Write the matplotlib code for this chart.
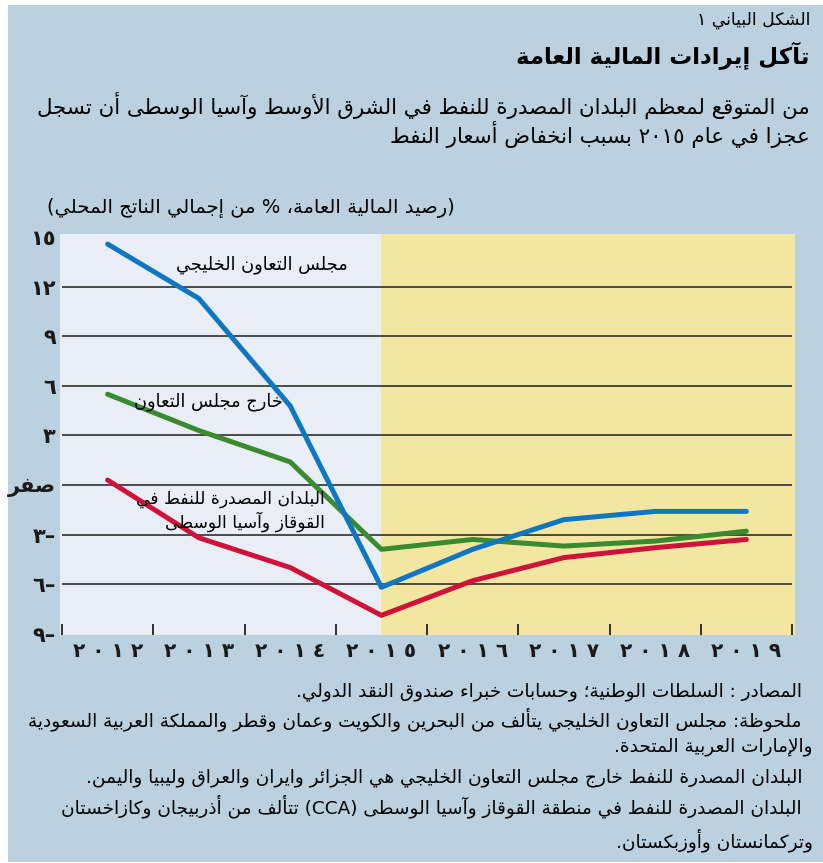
import matplotlib
matplotlib.use("Agg")
import matplotlib.pyplot as plt
from matplotlib.patches import Rectangle
import numpy as np

# ---- data ----
years = ["٢٠١٢", "٢٠١٣", "٢٠١٤", "٢٠١٥", "٢٠١٦", "٢٠١٧", "٢٠١٨", "٢٠١٩"]
gcc = [14.6, 11.3, 4.8, -6.2, -3.9, -2.1, -1.6, -1.6]
non_gcc = [5.5, 3.3, 1.4, -3.9, -3.3, -3.7, -3.4, -2.8]
cca = [0.3, -3.2, -5.0, -7.9, -5.8, -4.4, -3.8, -3.3]
yticks = [15, 12, 9, 6, 3, 0, -3, -6, -9]
ytick_labels = ["١٥", "١٢", "٩", "٦", "٣", "صفر", "–٣", "–٦", "–٩"]
grid_vals = [12, 9, 6, 3, 0, -3, -6]

header = "الشكل البياني ١"
title = "تآكل إيرادات المالية العامة"
subtitle = ["من المتوقع لمعظم البلدان المصدرة للنفط في الشرق الأوسط وآسيا الوسطى أن تسجل",
            "عجزا في عام ٢٠١٥ بسبب انخفاض أسعار النفط"]
ylabel = "(رصيد المالية العامة، % من إجمالي الناتج المحلي)"
lbl_gcc = "مجلس التعاون الخليجي"
lbl_non_gcc = "خارج مجلس التعاون"
lbl_cca = "البلدان المصدرة للنفط في\nالقوقاز وآسيا الوسطى"
notes = ["المصادر : السلطات الوطنية؛ وحسابات خبراء صندوق النقد الدولي.",
         "ملحوظة: مجلس التعاون الخليجي يتألف من البحرين والكويت وعمان وقطر والمملكة العربية السعودية",
         "والإمارات العربية المتحدة.",
         "البلدان المصدرة للنفط خارج مجلس التعاون الخليجي هي الجزائر وايران والعراق وليبيا واليمن.",
         "البلدان المصدرة للنفط في منطقة القوقاز وآسيا الوسطى (CCA) تتألف من أذربيجان وكازاخستان",
         "وتركمانستان وأوزبكستان."]

# ---- minimal arabic shaping + bidi, matplotlib does neither ----
NFORMS = {0x621: 1, 0x622: 2, 0x623: 2, 0x624: 2, 0x625: 2, 0x626: 4, 0x627: 2,
          0x628: 4, 0x629: 2, 0x62A: 4, 0x62B: 4, 0x62C: 4, 0x62D: 4, 0x62E: 4,
          0x62F: 2, 0x630: 2, 0x631: 2, 0x632: 2, 0x633: 4, 0x634: 4, 0x635: 4,
          0x636: 4, 0x637: 4, 0x638: 4, 0x639: 4, 0x63A: 4, 0x641: 4, 0x642: 4,
          0x643: 4, 0x644: 4, 0x645: 4, 0x646: 4, 0x647: 4, 0x648: 2, 0x649: 2,
          0x64A: 4}
FORMS = {}
_cp = 0xFE80
for _k, _n in NFORMS.items():
    _f = [chr(_cp + i) for i in range(_n)]
    if _n == 1:
        _f = _f * 4
    elif _n == 2:
        _f = [_f[0], _f[1], _f[0], _f[1]]
    FORMS[chr(_k)] = _f  # isolated, final, initial, medial
    _cp += _n
LAM_ALEF = {"\u0622": ("\uFEF5", "\uFEF6"), "\u0623": ("\uFEF7", "\uFEF8"),
            "\u0625": ("\uFEF9", "\uFEFA"), "\u0627": ("\uFEFB", "\uFEFC")}
MIRROR = {"(": ")", ")": "("}


def shape(s):
    units = []
    i = 0
    while i < len(s):
        if s[i] == "\u0644" and i + 1 < len(s) and s[i + 1] in LAM_ALEF:
            units.append(("la", s[i + 1]))
            i += 2
        else:
            units.append(("c", s[i]))
            i += 1

    def joins_next(u):
        return u[0] == "c" and u[1] in FORMS and NFORMS[ord(u[1])] == 4

    def joins_prev(u):
        return u[0] == "la" or (u[1] in FORMS and NFORMS[ord(u[1])] >= 2)

    out = []
    for k, u in enumerate(units):
        p = k > 0 and joins_next(units[k - 1]) and joins_prev(u)
        n = k + 1 < len(units) and joins_next(u) and joins_prev(units[k + 1])
        if u[0] == "la":
            out.append(LAM_ALEF[u[1]][1 if p else 0])
        elif u[1] in FORMS:
            out.append(FORMS[u[1]][(3 if n else 1) if p else (2 if n else 0)])
        else:
            out.append(u[1])
    return "".join(out)


def ar(text):
    lines = []
    for line in text.split("\n"):
        runs = []
        for ch in shape(line):
            ltr = (ch.isascii() and ch.isalnum()) or ("\u0660" <= ch <= "\u0669")
            if runs and runs[-1][0] == ltr:
                runs[-1][1].append(ch)
            else:
                runs.append([ltr, [ch]])
        vis = []
        for ltr, chs in reversed(runs):
            if ltr:
                vis.append("".join(chs))
            else:
                vis.append("".join(MIRROR.get(c, c) for c in reversed(chs)))
        lines.append("".join(vis))
    return "\n".join(lines)


# ---- figure ----
plt.rcParams["font.family"] = "DejaVu Sans"
W, H = 823, 863
fig = plt.figure(figsize=(W / 100, H / 100), dpi=100, facecolor="white")


def fx(x):
    return x / W


def fy(y):
    return 1 - y / H


BG = "#bcd1df"
fig.patches.append(Rectangle((fx(8), fy(862)), (823 - 8) / W, (862 - 5) / H,
                             transform=fig.transFigure, color=BG, lw=0, zorder=-1))

ax = fig.add_axes([fx(60), fy(635), (795 - 60) / W, (635 - 234) / H])
ax.patch.set_visible(False)
x0, x1 = -0.5 - 2 / 91.25, 7.5 + 3 / 91.25
ax.set_xlim(x0, x1)
ax.set_ylim(-9.09, 15.21)
ax.axvspan(x0, 3, color="#e9eef6", lw=0, zorder=0)
ax.axvspan(3, x1, color="#f3e6a0", lw=0, zorder=0)
ax.hlines(grid_vals, -0.5, 7.5, color="#2e2e2e", lw=1.2, zorder=1)

x = np.arange(len(years))
ax.plot(x, non_gcc, color="#3a8a2f", lw=3.6, solid_capstyle="round", zorder=3)
ax.plot(x, cca, color="#cf1239", lw=3.6, solid_capstyle="round", zorder=3)
ax.plot(x, gcc, color="#0f76c2", lw=3.6, solid_capstyle="round", zorder=4)

for s in ax.spines.values():
    s.set_visible(False)
ax.set_xticks(np.arange(-0.5, 8, 1))
ax.set_xticklabels([])
ax.tick_params(axis="x", which="major", direction="in", length=8, width=1.3, color="#222222")
ax.set_xticks(x, minor=True)
ax.set_xticklabels([" ".join(y) for y in years], minor=True, fontsize=14.5, fontweight="bold",
                   color="#1a1a1a")
ax.tick_params(axis="x", which="minor", length=0, pad=5)
ax.set_yticks(yticks)
ax.set_yticklabels([ar(t) for t in ytick_labels], fontsize=15, fontweight="bold", color="#1a1a1a")
ax.tick_params(axis="y", length=0, pad=3)

# series labels
fig.text(fx(348), fy(265), ar(lbl_gcc), ha="right", va="center", fontsize=12.8, zorder=5)
fig.text(fx(283), fy(402), ar(lbl_non_gcc), ha="right", va="center", fontsize=12.8, zorder=5)
fig.text(fx(325), fy(511), ar(lbl_cca), ha="right", va="center", fontsize=12.3,
         multialignment="right", linespacing=1.2, zorder=5)

# header texts
fig.text(fx(810), fy(20), ar(header), ha="right", va="center", fontsize=12.4)
fig.text(fx(810), fy(56), ar(title), ha="right", va="center", fontsize=16.5, fontweight="bold")
fig.text(fx(810), fy(105), ar(subtitle[0]), ha="right", va="center", fontsize=15.4)
fig.text(fx(810), fy(134), ar(subtitle[1]), ha="right", va="center", fontsize=15.4)
fig.text(fx(455), fy(208), ar(ylabel), ha="right", va="center", fontsize=14)

# notes
note_pos = [(802, 692), (802, 719), (813, 747), (802, 778), (802, 806), (813, 840)]
for (nx, ny), t in zip(note_pos, notes):
    fig.text(fx(nx), fy(ny), ar(t), ha="right", va="center", fontsize=13.3)

fig.savefig("out.png", dpi=100, facecolor="white")
